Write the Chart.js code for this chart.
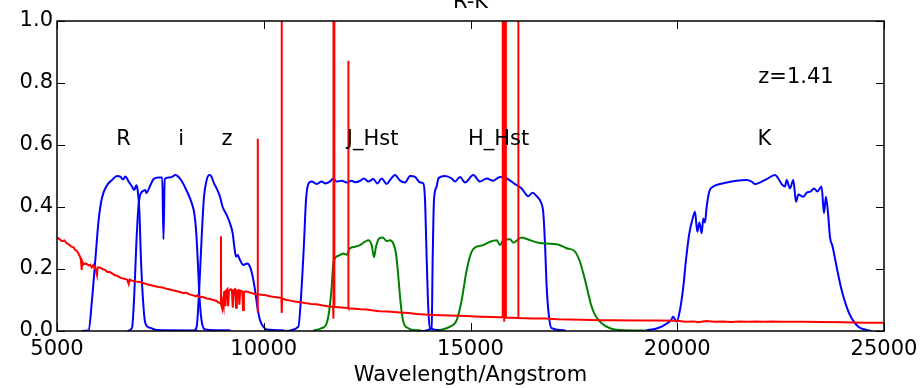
<!DOCTYPE html>
<html>
<head>
<meta charset="utf-8">
<script src="https://cdn.jsdelivr.net/npm/chart.js@4"></script>
<style>
  html, body { margin: 0; padding: 0; background: #fff; }
  #wrap { width: 922px; height: 388px; }
</style>
</head>
<body>
<div id="wrap"><canvas id="filterChart"></canvas></div>
<script>
// filter throughputs (wavelength in Angstrom)
const rWave = [5600, 5766, 5846, 5927, 6008, 6088, 6209, 6330, 6451, 6532, 6596, 6652, 6733, 6814, 6870, 6918, 6950, 6991, 7031, 7080, 7136, 7257, 7418, 8400];
const rThru = [0.0, 0.003, 0.10, 0.23, 0.36, 0.43, 0.47, 0.487, 0.50, 0.498, 0.489, 0.498, 0.482, 0.466, 0.455, 0.47, 0.455, 0.39, 0.23, 0.10, 0.025, 0.01, 0.003, 0.002];

const iWave = [6700, 6814, 6870, 6918, 6975, 7031, 7065, 7136, 7160, 7257, 7337, 7458, 7545, 7575, 7605, 7700, 7781, 7862, 7942, 8023, 8144, 8265, 8320, 8369, 8410, 8450, 8507, 8587, 9200];
const iThru = [0.0, 0.01, 0.12, 0.28, 0.41, 0.445, 0.45, 0.455, 0.445, 0.47, 0.49, 0.495, 0.495, 0.296, 0.49, 0.495, 0.497, 0.503, 0.497, 0.482, 0.45, 0.41, 0.38, 0.315, 0.21, 0.10, 0.025, 0.005, 0.002];

const zWave = [8300, 8378, 8442, 8499, 8555, 8620, 8684, 8740, 8797, 8861, 8942, 9007, 9103, 9184, 9249, 9288, 9329, 9369, 9426, 9506, 9603, 9668, 9733, 9789, 9845, 9910, 9990, 10070, 10500];
const zThru = [0.0, 0.014, 0.143, 0.304, 0.433, 0.487, 0.503, 0.497, 0.476, 0.46, 0.433, 0.40, 0.374, 0.347, 0.315, 0.272, 0.24, 0.245, 0.229, 0.213, 0.218, 0.207, 0.175, 0.132, 0.078, 0.035, 0.014, 0.005, 0.002];

const jWave = [10500, 10836, 10917, 10973, 11022, 11077, 11159, 11280, 11400, 11482, 11600, 11682, 11763, 11884, 12006, 12126, 12207, 12328, 12424, 12529, 12650, 12747, 12852, 12973, 13054, 13175, 13296, 13417, 13538, 13659, 13780, 13860, 13900, 13941, 13981, 14021, 14300];
const jThru = [0.0, 0.014, 0.143, 0.283, 0.423, 0.474, 0.482, 0.474, 0.482, 0.476, 0.482, 0.492, 0.482, 0.485, 0.479, 0.485, 0.48, 0.484, 0.492, 0.482, 0.49, 0.476, 0.492, 0.474, 0.487, 0.503, 0.485, 0.479, 0.50, 0.497, 0.479, 0.476, 0.423, 0.229, 0.068, 0.01, 0.002];

const hWave = [13800, 14061, 14085, 14117, 14182, 14221, 14383, 14545, 14625, 14746, 14867, 15068, 15230, 15391, 15550, 15713, 15875, 16076, 16237, 16398, 16503, 16600, 16697, 16761, 16801, 16842, 16898, 16962, 17300];
const hThru = [0.0, 0.01, 0.23, 0.423, 0.466, 0.492, 0.50, 0.492, 0.482, 0.497, 0.479, 0.503, 0.482, 0.492, 0.485, 0.497, 0.492, 0.474, 0.46, 0.435, 0.446, 0.435, 0.417, 0.38, 0.283, 0.143, 0.046, 0.009, 0.002];

const kWave = [19250, 19500, 19700, 19850, 19900, 19986, 20066, 20147, 20211, 20292, 20373, 20429, 20485, 20534, 20590, 20630, 20670, 20711, 20775, 20872, 21033, 21195, 21437, 21679, 21800, 21880, 22001, 22162, 22364, 22444, 22525, 22605, 22646, 22726, 22807, 22871, 22928, 23048, 23129, 23226, 23306, 23387, 23491, 23548, 23596, 23653, 23693, 23758, 23854, 23975, 24096, 24217, 24378, 24580, 24700];
const kThru = [0.002, 0.008, 0.02, 0.035, 0.046, 0.03, 0.068, 0.143, 0.229, 0.315, 0.363, 0.385, 0.32, 0.35, 0.315, 0.363, 0.35, 0.40, 0.45, 0.466, 0.474, 0.479, 0.485, 0.487, 0.482, 0.474, 0.479, 0.49, 0.503, 0.492, 0.474, 0.466, 0.487, 0.46, 0.487, 0.417, 0.44, 0.433, 0.446, 0.45, 0.46, 0.45, 0.466, 0.38, 0.433, 0.37, 0.304, 0.272, 0.207, 0.132, 0.078, 0.041, 0.014, 0.003, 0.0];

// HST curves (green)
const jgWave = [11200, 11401, 11522, 11586, 11643, 11682, 11764, 11845, 11925, 12006, 12086, 12207, 12328, 12449, 12529, 12610, 12666, 12714, 12795, 12876, 12973, 13054, 13134, 13198, 13255, 13311, 13375, 13496, 13617, 13800];
const jgThru = [0.002, 0.009, 0.025, 0.068, 0.143, 0.218, 0.24, 0.245, 0.25, 0.246, 0.267, 0.272, 0.277, 0.288, 0.293, 0.277, 0.238, 0.272, 0.299, 0.302, 0.29, 0.293, 0.282, 0.25, 0.175, 0.089, 0.03, 0.009, 0.003, 0.002];

const hgWave = [14262, 14504, 14666, 14787, 14908, 15029, 15150, 15310, 15472, 15633, 15713, 15794, 15955, 16036, 16237, 16438, 16640, 16842, 17083, 17325, 17527, 17631, 17728, 17809, 17906, 18010, 18171, 18372, 18614, 19300];
const hgThru = [0.003, 0.014, 0.035, 0.10, 0.197, 0.256, 0.272, 0.277, 0.288, 0.293, 0.277, 0.293, 0.296, 0.285, 0.302, 0.293, 0.285, 0.282, 0.28, 0.267, 0.256, 0.229, 0.186, 0.143, 0.089, 0.052, 0.025, 0.009, 0.003, 0.001];

// galaxy spectrum at z=1.41 (red)
const specWave = [5000, 5060, 5120, 5180, 5234, 5300, 5350, 5400, 5435, 5480, 5520, 5556, 5580, 5597, 5610, 5640, 5700, 5760, 5800, 5840, 5878, 5930, 5967, 5980, 6040, 6100, 6160, 6220, 6282, 6340, 6400, 6460, 6524, 6580, 6650, 6700, 6733, 6760, 6820, 6900, 7007, 7100, 7200, 7330, 7450, 7550, 7652, 7750, 7850, 7975, 8060, 8120, 8200, 8297, 8360, 8400, 8450, 8520, 8620, 8700, 8780, 8862, 8900, 8940,
  8964, 8966, 8968, 8990, 9010, 9030, 9040, 9060, 9075, 9090, 9120, 9140, 9160, 9200, 9230, 9250, 9270, 9310, 9330, 9350, 9390, 9410, 9430, 9480, 9500, 9520, 9580, 9640, 9700, 9760, 9820,
  9850, 9852, 9856, 9860, 9950, 10050, 10150, 10250, 10350, 10428, 10432, 10438, 10444, 10550, 10650, 10750, 10876, 11000, 11150, 11280, 11400, 11550,
  11676, 11680, 11692, 11700, 11708, 11800, 11950, 12042, 12045, 12050, 12200, 12350, 12488, 12650, 12800, 13000, 13295, 13500, 13700, 13900, 14100, 14300, 14500, 14700, 14907, 15100, 15300, 15500, 15700,
  15776, 15780, 15815, 15850, 15856, 16000, 16152, 16156, 16160, 16350, 16519, 16800, 17100, 17400, 17700, 18130, 18500, 19000, 19500, 20000, 20200, 20400, 20500, 20700, 20900, 21100, 21300, 21500, 21700, 21900, 22100, 22300, 22500, 23000, 23500, 24000, 24500, 25000];
const specFlux = [0.302, 0.296, 0.29, 0.292, 0.283, 0.278, 0.272, 0.27, 0.262, 0.258, 0.25, 0.24, 0.228, 0.197, 0.225, 0.215, 0.218, 0.212, 0.214, 0.205, 0.213, 0.2, 0.18, 0.205, 0.205, 0.2, 0.197, 0.19, 0.19, 0.185, 0.18, 0.178, 0.172, 0.17, 0.168, 0.165, 0.152, 0.166, 0.162, 0.16, 0.158, 0.154, 0.15, 0.146, 0.142, 0.14, 0.136, 0.133, 0.13, 0.126, 0.122, 0.124, 0.118, 0.115, 0.112, 0.115, 0.108, 0.11, 0.105, 0.103, 0.1, 0.097, 0.092, 0.09,
  0.088, 0.306, 0.085, 0.075, 0.095, 0.08, 0.125, 0.13, 0.08, 0.13, 0.135, 0.08, 0.13, 0.135, 0.13, 0.075, 0.132, 0.135, 0.075, 0.13, 0.132, 0.085, 0.13, 0.128, 0.068, 0.125, 0.128, 0.125, 0.123, 0.12, 0.118,
  0.117, 0.62, 0.06, 0.118, 0.117, 0.115, 0.112, 0.11, 0.108, 0.106, 1.5, 0.058, 0.105, 0.1, 0.098, 0.095, 0.093, 0.09, 0.087, 0.086, 0.083, 0.08,
  0.078, 1.5, 0.04, 1.5, 0.078, 0.077, 0.075, 0.074, 0.872, 0.073, 0.072, 0.07, 0.069, 0.066, 0.064, 0.063, 0.06, 0.058, 0.055, 0.053, 0.052, 0.051, 0.05, 0.049, 0.048, 0.047, 0.046, 0.045, 0.044,
  0.044, 1.5, 0.03, 1.5, 0.043, 0.043, 0.042, 1.5, 0.042, 0.041, 0.04, 0.04, 0.038, 0.037, 0.036, 0.035, 0.035, 0.034, 0.034, 0.033, 0.03, 0.031, 0.028, 0.032, 0.03, 0.031, 0.029, 0.031, 0.03, 0.031, 0.03, 0.031, 0.03, 0.03, 0.029, 0.028, 0.027, 0.027];

// band labels
const bandNames = ["R", "i", "z", "J_Hst", "H_Hst", "K"];
const bandX = [6430, 7930, 8980, 12010, 14940, 21940];
const bandY = 0.6;
const redshiftText = "z=1.41";
const redshiftX = 21960;
const redshiftY = 0.8;

const xTicks = [5000, 10000, 15000, 20000, 25000];
const yTicks = [0.0, 0.2, 0.4, 0.6, 0.8, 1.0];

function pts(xs, ys) {
  return xs.map((v, i) => ({ x: v, y: ys[i] }));
}

function curve(xs, ys, color, smooth) {
  return {
    data: pts(xs, ys),
    borderColor: color,
    borderWidth: 2,
    pointRadius: 0,
    cubicInterpolationMode: smooth ? "monotone" : "default",
    tension: 0,
    fill: false,
  };
}

Chart.defaults.font.family = "'DejaVu Sans', sans-serif";
Chart.defaults.font.size = 21;
Chart.defaults.color = "#000";

// box, inside ticks, labels and title
const frame = {
  id: "frame",
  afterDatasetsDraw(chart) {
    const { ctx, chartArea: a, scales: { x, y } } = chart;
    ctx.save();
    ctx.strokeStyle = "#000";
    ctx.lineWidth = 1;
    ctx.beginPath();
    xTicks.forEach((v) => {
      const px = Math.round(x.getPixelForValue(v)) + 0.5;
      ctx.moveTo(px, a.bottom);
      ctx.lineTo(px, a.bottom - 8);
      ctx.moveTo(px, a.top);
      ctx.lineTo(px, a.top + 8);
    });
    yTicks.forEach((v) => {
      const py = Math.round(y.getPixelForValue(v)) + 0.5;
      ctx.moveTo(a.left, py);
      ctx.lineTo(a.left + 8, py);
      ctx.moveTo(a.right, py);
      ctx.lineTo(a.right - 8, py);
    });
    ctx.stroke();
    ctx.lineWidth = 1.5;
    ctx.strokeRect(a.left, a.top, a.right - a.left, a.bottom - a.top);

    ctx.fillStyle = "#000";
    ctx.font = "21px 'DejaVu Sans', sans-serif";
    ctx.textBaseline = "alphabetic";
    ctx.textAlign = "left";
    bandNames.forEach((n, i) => {
      ctx.fillText(n, x.getPixelForValue(bandX[i]), y.getPixelForValue(bandY));
    });
    ctx.fillText(redshiftText, x.getPixelForValue(redshiftX), y.getPixelForValue(redshiftY));

    ctx.textAlign = "center";
    ctx.fillText("R-K", (a.left + a.right) / 2, a.top - 13);
    ctx.restore();
  },
};

new Chart(document.getElementById("filterChart"), {
  type: "line",
  data: {
    datasets: [
      curve(specWave, specFlux, "#ff0000", false),
      curve(jgWave, jgThru, "#008000", true),
      curve(hgWave, hgThru, "#008000", true),
      curve(rWave, rThru, "#0000ff", true),
      curve(iWave, iThru, "#0000ff", true),
      curve(zWave, zThru, "#0000ff", true),
      curve(jWave, jThru, "#0000ff", true),
      curve(hWave, hThru, "#0000ff", true),
      curve(kWave, kThru, "#0000ff", true),
    ],
  },
  options: {
    responsive: true,
    maintainAspectRatio: false,
    animation: false,
    layout: { padding: { top: 21, right: 38, left: 0, bottom: 0 } },
    plugins: {
      legend: { display: false },
      tooltip: { enabled: false },
    },
    scales: {
      x: {
        type: "linear",
        min: 5000,
        max: 25000,
        grid: { display: false, drawTicks: false },
        border: { display: false },
        ticks: {
          stepSize: 5000,
          autoSkip: false,
          maxRotation: 0,
          padding: 6,
          callback: (v) => String(v),
        },
        title: {
          display: true,
          text: "Wavelength/Angstrom",
          padding: { top: 0, bottom: 0 },
        },
        afterFit(s) {
          s.height = 57;
          s.paddingLeft = 0;
          s.paddingRight = 0;
        },
      },
      y: {
        min: 0,
        max: 1,
        grid: { display: false, drawTicks: false },
        border: { display: false },
        ticks: {
          stepSize: 0.2,
          autoSkip: false,
          padding: 4,
          callback: (v) => v.toFixed(1),
        },
        afterFit(s) {
          s.width = 57;
          s.paddingTop = 0;
          s.paddingBottom = 0;
        },
      },
    },
  },
  plugins: [frame],
});
</script>
</body>
</html>
